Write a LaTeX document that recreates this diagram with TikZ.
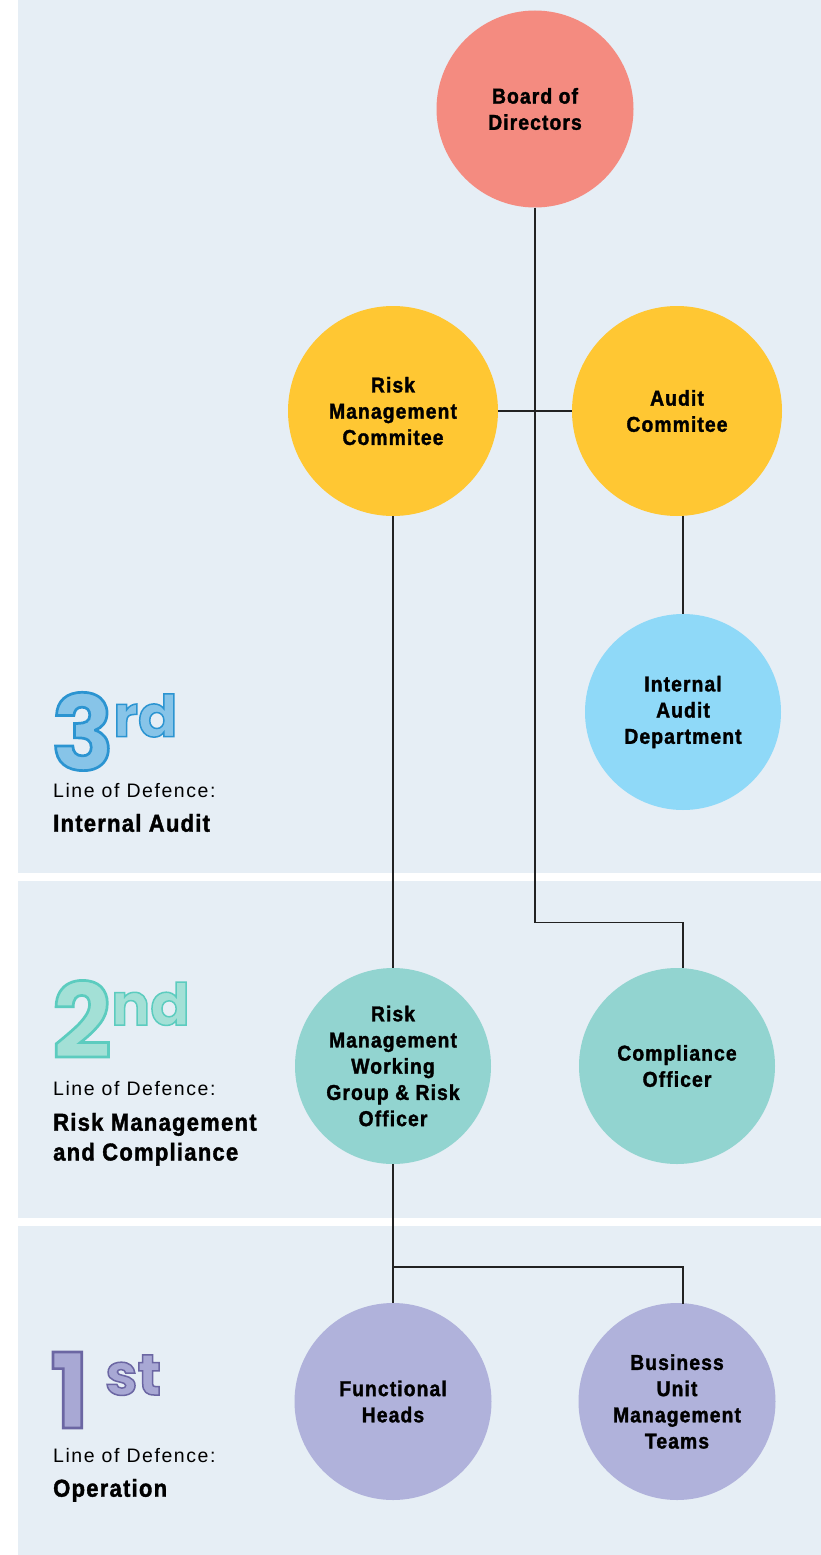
\documentclass[tikz,border=0pt]{standalone}
\usepackage{fontspec}
\setmainfont{Liberation Sans}
\newfontfamily\condbold{Liberation Sans}[UprightFont={* Bold},FakeStretch=0.9,LetterSpace=5,FakeBold=1.5]
\newfontfamily\lodfontfam{Liberation Sans}[LetterSpace=8]
\newfontfamily\numfont{Poppins}[UprightFont={* Bold},FakeBold=2.6]
\definecolor{panel}{HTML}{E6EEF5}
\definecolor{cRed}{HTML}{F48B80}
\definecolor{cYel}{HTML}{FFC733}
\definecolor{cSky}{HTML}{8FD9F8}
\definecolor{cTeal}{HTML}{92D4D0}
\definecolor{cLav}{HTML}{B0B2DB}
\definecolor{cLine}{HTML}{222222}
% outlined numerals: fill colour and stroke colour given separately
\newcommand{\outl}[3]{\special{pdf:bcolor [#1] [#2]}#3\special{pdf:ecolor}}
\tikzset{
  bubble/.style={circle, inner sep=0pt, align=center, text=black,
    font=\condbold\fontsize{21.5}{26.2}\selectfont},
  link/.style={draw=cLine, line width=1.3pt},
  lodtext/.style={anchor=base west, inner sep=0pt, text=black,
    font=\lodfontfam\fontsize{19.5}{24}\selectfont},
  lodbold/.style={anchor=base west, inner sep=0pt, text=black,
    font=\condbold\fontsize{24.5}{30}\selectfont},
  bignum/.style={anchor=base west, inner sep=0pt,
    font=\numfont\fontsize{104}{104}\selectfont},
  supnum/.style={anchor=base west, inner sep=0pt,
    font=\numfont\fontsize{58}{58}\selectfont}
}
\begin{document}
\begin{tikzpicture}[x=1pt,y=-1pt]
\useasboundingbox (0,0) rectangle (821,1555);
\fill[white] (0,0) rectangle (821,1555);
% panels
\fill[panel] (18,0) rectangle (821,873);
\fill[panel] (18,881) rectangle (821,1218);
\fill[panel] (18,1226) rectangle (821,1555);

% circles
\node[bubble, fill=cRed, minimum size=197pt] (board) at (535,109) {Board of\\Directors};
\node[bubble, fill=cYel, minimum size=210pt] (rmc) at (393,411) {Risk\\Management\\Commitee};
\node[bubble, fill=cYel, minimum size=210pt] (audit) at (677,411) {Audit\\Commitee};
\node[bubble, fill=cSky, minimum size=196pt] (ia) at (683,712) {Internal\\Audit\\Department};
\node[bubble, fill=cTeal, minimum size=196pt] (rmwg) at (393,1066) {Risk\\Management\\Working\\Group \& Risk\\Officer};
\node[bubble, fill=cTeal, minimum size=196pt] (co) at (677,1066) {Compliance\\Officer};
\node[bubble, fill=cLav, minimum size=197pt] (fh) at (393,1401.5) {Functional\\Heads};
\node[bubble, fill=cLav, minimum size=197pt] (bu) at (677,1401.5) {Business\\Unit\\Management\\Teams};

% connectors
\coordinate (j1) at (535,922.7);
\coordinate (coT) at (683,968.3);
\coordinate (j2) at (393,1267);
\coordinate (buT) at (683,1303.7);
\draw[link] (board.south) -- (j1) -| (coT);
\draw[link] (rmc.east) -- (audit.west);
\draw[link] (rmc.south) -- (rmwg.north);
\draw[link] (audit.south -| ia.north) -- (ia.north);
\draw[link] (rmwg.south) -- (fh.north);
\draw[link] (j2) -| (buT);

% 3rd line
\node[bignum] (n3) at (51,770) {\outl{0.53 0.77 0.91}{0.17 0.58 0.82}{3}};
\node[supnum] (s3) at (113,736.7) {\outl{0.53 0.77 0.91}{0.17 0.58 0.82}{rd}};
\node[lodtext] (l3a) at (53,797.7) {Line of Defence:};
\node[lodbold] (l3b) at (53,831.7) {Internal Audit};

% 2nd line
\node[bignum] (n2) at (52,1058) {\outl{0.64 0.88 0.84}{0.36 0.80 0.75}{2}};
\node[supnum] (s2) at (111,1025) {\outl{0.64 0.88 0.84}{0.36 0.80 0.75}{nd}};
\node[lodtext] (l2a) at (53,1095) {Line of Defence:};
\node[lodbold] (l2b) at (53,1130.7) {Risk Management};
\node[lodbold] (l2c) at (53,1160.5) {and Compliance};

% 1st line
\node[bignum] (n1) at (50,1428) {\outl{0.66 0.66 0.83}{0.42 0.40 0.64}{1}};
\node[supnum] (s1) at (105,1395) {\outl{0.66 0.66 0.83}{0.42 0.40 0.64}{st}};
\node[lodtext] (l1a) at (53,1462.7) {Line of Defence:};
\node[lodbold] (l1b) at (53,1496.7) {Operation};
\end{tikzpicture}
\end{document}
